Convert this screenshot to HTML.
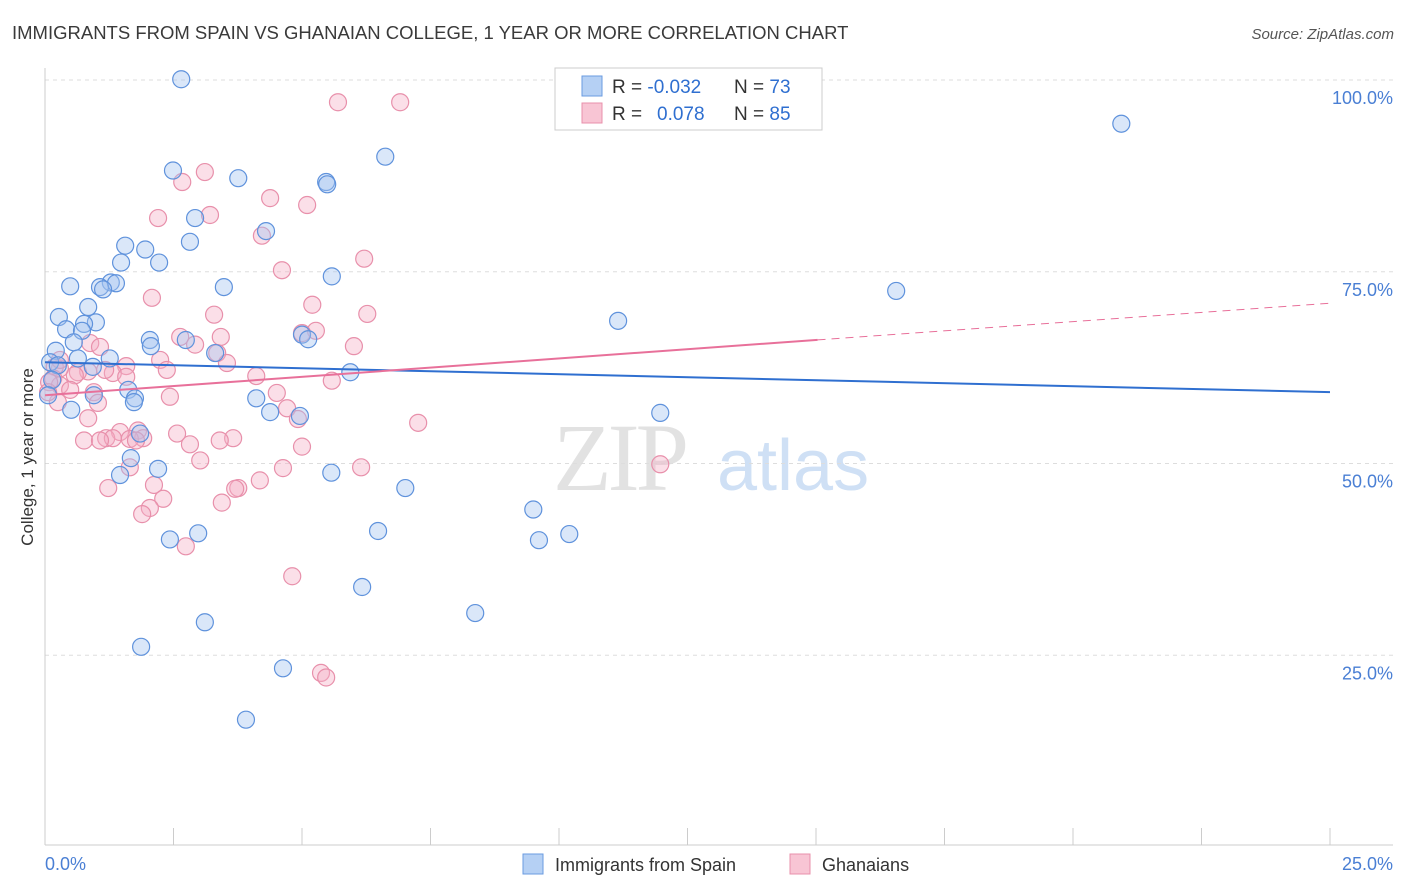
<!DOCTYPE html>
<html><head><meta charset="utf-8">
<style>
body{margin:0;background:#fff;font-family:"Liberation Sans",sans-serif;}
svg{display:block}
</style></head>
<body>
<svg id="chart" width="1406" height="892" xmlns="http://www.w3.org/2000/svg">
<text x="12" y="39" font-size="18.5" fill="#3a3a3a">IMMIGRANTS FROM SPAIN VS GHANAIAN COLLEGE, 1 YEAR OR MORE CORRELATION CHART</text>
<text x="1394" y="39" font-size="15" fill="#555" font-style="italic" text-anchor="end">Source: ZipAtlas.com</text>
<g>
<text x="553" y="490" font-size="96" font-family="Liberation Serif,serif" fill="#e2e2e2" letter-spacing="-4">ZIP</text>
<text x="717" y="490" font-size="72" fill="#cfe0f5">atlas</text>
</g>
<g id="grid"></g>
<line x1="45" y1="68" x2="45" y2="845" stroke="#ccc"/>
<line x1="45" y1="845" x2="1393" y2="845" stroke="#ccc"/>
<g id="xticks"></g>
<text transform="translate(33,457) rotate(-90)" font-size="17" fill="#333" text-anchor="middle">College, 1 year or more</text>
<text x="45" y="870" font-size="18" fill="#4a7fd4">0.0%</text>
<text x="1393" y="870" font-size="18" fill="#4a7fd4" text-anchor="end">25.0%</text>
<g id="pts"></g>
<g id="trends"></g>
<g>
<rect x="555" y="68" width="267" height="62" fill="#fff" stroke="#ccc"/>
<rect x="582" y="76" width="20" height="20" fill="#b5d0f4" stroke="#6a9be0"/>
<rect x="582" y="103" width="20" height="20" fill="#f8c5d4" stroke="#e890ab"/>
<text x="612" y="93" font-size="19" fill="#333">R = <tspan fill="#2f6fd0">-0.032</tspan>   <tspan x="734">N = </tspan><tspan fill="#2f6fd0">73</tspan></text>
<text x="612" y="120" font-size="19" fill="#333">R = <tspan fill="#2f6fd0" x="657">0.078</tspan><tspan x="734">N = </tspan><tspan fill="#2f6fd0">85</tspan></text>
</g>
<g>
<rect x="523" y="854" width="20" height="20" fill="#b5d0f4" stroke="#6a9be0"/>
<text x="555" y="871" font-size="18" fill="#333">Immigrants from Spain</text>
<rect x="790" y="854" width="20" height="20" fill="#f8c5d4" stroke="#e890ab"/>
<text x="822" y="871" font-size="18" fill="#333">Ghanaians</text>
</g>
</svg>
<script>
const yTicks=[25,50,75,100];
const yTickLabels=["25.0%","50.0%","75.0%","100.0%"];
const blueX=[2.65,2.49,3.76,6.62,5.47,5.49,2.92,4.30,2.82,1.56,1.95,1.48,2.22,5.58,0.49,1.28,1.38,1.07,1.13,3.48,0.84,0.27,0.99,0.76,0.41,0.72,0.56,2.04,2.74,2.06,5.00,5.12,0.21,3.31,1.26,0.64,0.93,0.10,0.25,5.94,1.62,0.95,1.75,1.73,4.11,0.51,4.38,4.96,1.85,1.67,2.20,1.46,7.01,5.57,9.50,6.48,2.98,2.43,9.61,10.20,6.17,8.37,3.11,1.87,4.63,3.91,11.15,11.97,16.56,20.94,0.14,0.06];
const blueY=[100.1,88.2,87.2,90.0,86.7,86.4,82.0,80.3,78.9,78.4,77.9,76.2,76.2,74.4,73.1,73.6,73.5,73.0,72.7,73.0,70.4,69.1,68.4,68.2,67.5,67.3,65.8,66.1,66.1,65.3,66.8,66.2,64.7,64.4,63.7,63.7,62.6,63.2,62.8,61.9,59.6,58.9,58.5,58.0,58.5,57.0,56.7,56.2,53.9,50.7,49.3,48.5,46.8,48.8,44.0,41.2,40.9,40.1,40.0,40.8,33.9,30.5,29.3,26.1,23.3,16.6,68.6,56.6,72.5,94.3,60.9,58.9];
const pinkX=[5.70,6.91,3.11,2.67,3.21,4.38,5.10,2.20,4.22,4.61,6.21,2.08,5.20,6.27,3.29,3.42,2.63,2.92,5.27,5.00,6.01,3.35,0.88,1.07,2.24,3.54,0.84,0.64,0.58,0.29,0.19,0.16,1.58,2.37,4.11,5.58,1.32,0.29,1.58,0.49,0.95,2.43,4.51,1.03,0.25,4.71,4.92,7.26,0.84,1.46,1.81,1.91,2.57,1.19,1.32,1.65,1.77,3.66,0.76,2.82,5.00,3.02,4.63,6.15,11.97,4.18,1.65,1.23,3.76,3.70,2.12,3.44,2.30,2.04,1.89,2.74,4.81,5.37,5.47,0.08,0.06,0.29,1.07,3.40,1.17];
const pinkY=[97.1,97.1,88.0,86.7,82.4,84.6,83.7,82.0,79.7,75.2,76.7,71.6,70.7,69.5,69.4,66.5,66.5,65.5,67.3,67.0,65.3,64.4,65.7,65.2,63.5,63.1,62.0,61.9,61.5,62.4,62.6,61.1,62.7,62.2,61.4,60.8,61.8,60.2,61.3,59.6,59.3,58.7,59.2,57.9,58.0,57.2,55.8,55.3,55.9,54.1,54.3,53.3,53.9,53.3,53.3,53.2,53.0,53.3,53.0,52.5,52.2,50.4,49.4,49.5,49.9,47.8,49.5,46.8,46.8,46.7,47.2,44.9,45.4,44.2,43.4,39.2,35.3,22.7,22.1,60.6,59.3,63.5,53.0,53.0,62.2];
const blueTrend=[63.2,59.3];
const pinkTrend=[58.9,70.9];
const pinkSolidEnd=15.03;

const NS="http://www.w3.org/2000/svg";
const xs=v=>45+v/25*1285;
const ys=v=>847-v*7.67;
function mk(tag,attrs,parent){const e=document.createElementNS(NS,tag);for(const k in attrs)e.setAttribute(k,attrs[k]);parent.appendChild(e);return e;}
const grid=document.getElementById('grid');
yTicks.forEach((t,i)=>{
  const l=mk('line',{x1:45,x2:1393,y1:ys(t),y2:ys(t),stroke:'#ddd','stroke-dasharray':'4,4'},grid);
  
  
  const tx=mk('text',{x:1393,y:ys(t)+24,'font-size':18,fill:'#4a7fd4','text-anchor':'end'},grid);
  tx.textContent=yTickLabels[i];
  
  
});
const xt=document.getElementById('xticks');
for(let i=0;i<=10;i++){
  const l=mk('line',{x1:xs(i*2.5),x2:xs(i*2.5),y1:828,y2:845,stroke:'#ccc'},xt);
  
  
}
const pts=document.getElementById('pts');
function drawPts(X,Y,fill,stroke,name){
  X.forEach((x,i)=>{
    const c=mk('circle',{cx:xs(x),cy:ys(Y[i]),r:8.5,fill:fill,'fill-opacity':0.4,stroke:stroke,'stroke-width':1.2},pts);
    
    
  });
}
drawPts(pinkX,pinkY,'#f5b0c5','#e890ab','ghanaians-point');
drawPts(blueX,blueY,'#a3c3f0','#5f92dc','spain-point');
const tr=document.getElementById('trends');
const bl=mk('line',{x1:xs(0),y1:ys(blueTrend[0]),x2:xs(25),y2:ys(blueTrend[1]),stroke:'#2f6fd0','stroke-width':2},tr);


const pAt=x=>pinkTrend[0]+(pinkTrend[1]-pinkTrend[0])*x/25;
const pl=mk('line',{x1:xs(0),y1:ys(pinkTrend[0]),x2:xs(pinkSolidEnd),y2:ys(pAt(pinkSolidEnd)),stroke:'#e8709a','stroke-width':2},tr);


const pd=mk('line',{x1:xs(pinkSolidEnd),y1:ys(pAt(pinkSolidEnd)),x2:xs(25),y2:ys(pinkTrend[1]),stroke:'#e8709a','stroke-width':1,'stroke-dasharray':'8,6'},tr);


</script>
</body></html>
